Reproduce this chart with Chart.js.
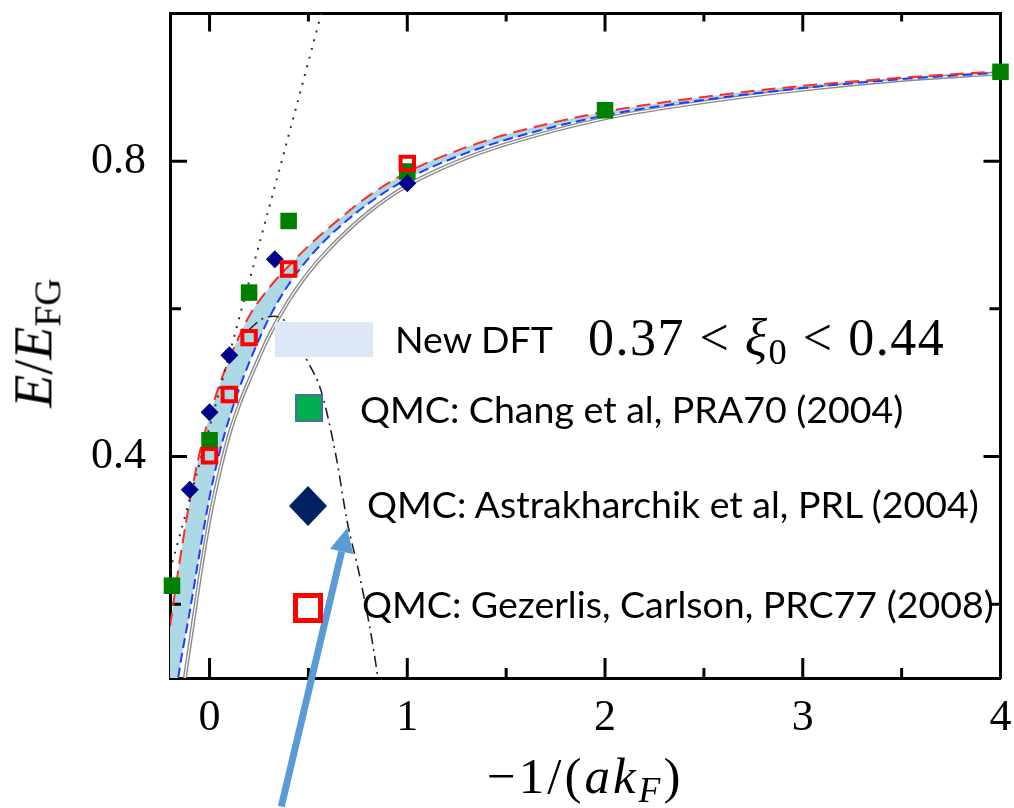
<!DOCTYPE html>
<html><head><meta charset="utf-8">
<script src="https://cdn.jsdelivr.net/npm/chart.js@4.4.0/dist/chart.umd.min.js"></script>
<style>
html,body{margin:0;padding:0;background:#fff;}
#wrap{position:relative;width:1014px;height:808px;overflow:hidden;background:#fff;}
canvas{position:absolute;left:0;top:0;}
.t{position:absolute;white-space:nowrap;line-height:1;color:#000;}
.leg{font-family:Lato,'Open Sans',sans-serif;font-size:37.5px;}
.math{font-family:'Liberation Serif',serif;}
.sw{position:absolute;box-sizing:border-box;}
</style></head><body>
<div id="wrap"><canvas id="c" width="1014" height="808"></canvas></div>
<script>
// ---- tick labels ----
const xTicks=[0,1,2,3,4];
const xMinorTicks=[0.5,1.5,2.5,3.5];
const yTicks=[0.4,0.8];
const yMinorTicks=[0.2,0.6];

// ---- New DFT band (upper = red dashed, lower = blue dashed) and grey curve ----
const dftX    =[-0.2, -0.15,-0.1, -0.05, 0,    0.05, 0.1,  0.15, 0.2,  0.3,  0.4,  0.5,  0.6,  0.8,  1.0,  1.25, 1.5,  2.0,  2.5,  3.0,  3.5,  4.0];
const dftUpper=[0.17, 0.26, 0.34, 0.405, 0.455,0.497,0.532,0.563,0.590,0.628,0.658,0.685,0.709,0.752,0.785,0.814,0.836,0.867,0.887,0.902,0.913,0.922];
const dftLower=[0.02, 0.115,0.19, 0.27,  0.345,0.405,0.452,0.492,0.527,0.587,0.633,0.668,0.697,0.742,0.776,0.806,0.829,0.862,0.883,0.899,0.911,0.920];
const greyX   =[-0.15,-0.125,-0.1,-0.05, 0,    0.05, 0.1,  0.15, 0.2,  0.3,  0.4,  0.5,  0.6,  0.8,  1.0,  1.25, 1.5,  2.0,  2.5,  3.0,  3.5,  4.0];
const greyY   =[0.055,0.1,  0.145,0.235, 0.315,0.378,0.430,0.470,0.503,0.563,0.611,0.649,0.680,0.730,0.767,0.799,0.823,0.858,0.880,0.897,0.910,0.919];

// ---- dotted straight line near unitarity ----
const linX=[-0.2, 0,    0.2,  0.4,  0.57];
const linY=[0.245,0.44, 0.637,0.835,1.005];

// ---- dash-dot curve ----
const uniX=[0.2,  0.27, 0.33, 0.40, 0.49, 0.565,0.64, 0.696,0.757,0.822,0.86];
const uniY=[0.572,0.587,0.59, 0.578,0.532,0.488,0.40, 0.312,0.241,0.151,0.085];

// ---- QMC data ----
const changX=[-0.19,0,    0.2,  0.4,  1.0,  2.0,  4.0];
const changY=[0.225,0.422,0.622,0.719,0.786,0.869,0.921];
const astraX=[-0.1, 0,    0.1,  0.33, 1.0];
const astraY=[0.355,0.46, 0.537,0.667,0.77];
const gezX  =[0,    0.1,  0.2,  0.4,  1.0];
const gezY  =[0.401,0.484,0.561,0.654,0.797];

// ---- arrow (data coords: from, to) ----
const arrowFrom=[0.363,-0.074];
const arrowTo  =[0.696,0.303];

const legendNames=['New DFT','QMC: Chang et al, PRA70 (2004)','QMC: Astrakharchik et al, PRL (2004)','QMC: Gezerlis, Carlson, PRC77 (2008)'];

const pts=(xs,ys)=>xs.map((x,i)=>({x,y:ys[i]}));

const inTicks={id:'inTicks',
  beforeDatasetsDraw(chart){
    const {ctx,chartArea:a,scales:{x,y}}=chart;
    ctx.save();ctx.strokeStyle='#000';ctx.lineWidth=3;ctx.beginPath();
    xTicks.forEach(v=>{const p=x.getPixelForValue(v);ctx.moveTo(p,a.bottom);ctx.lineTo(p,a.bottom-20);ctx.moveTo(p,a.top);ctx.lineTo(p,a.top+18);});
    xMinorTicks.forEach(v=>{const p=x.getPixelForValue(v);ctx.moveTo(p,a.bottom);ctx.lineTo(p,a.bottom-10);ctx.moveTo(p,a.top);ctx.lineTo(p,a.top+8);});
    yTicks.forEach(v=>{const p=y.getPixelForValue(v);ctx.moveTo(a.left,p);ctx.lineTo(a.left+17,p);ctx.moveTo(a.right,p);ctx.lineTo(a.right-17,p);});
    yMinorTicks.forEach(v=>{const p=y.getPixelForValue(v);ctx.moveTo(a.left,p);ctx.lineTo(a.left+11,p);ctx.moveTo(a.right,p);ctx.lineTo(a.right-11,p);});
    ctx.stroke();ctx.restore();
  },
  afterDraw(chart){
    const {ctx,scales:{x,y}}=chart;
    const x0=x.getPixelForValue(arrowFrom[0]),y0=y.getPixelForValue(arrowFrom[1]);
    const x1=x.getPixelForValue(arrowTo[0]),y1=y.getPixelForValue(arrowTo[1]);
    const ang=Math.atan2(y1-y0,x1-x0),L=24,W=12;
    const bx=x1-L*Math.cos(ang),by=y1-L*Math.sin(ang);
    ctx.save();ctx.strokeStyle='#5b9bd5';ctx.fillStyle='#5b9bd5';ctx.lineWidth=7;
    ctx.beginPath();ctx.moveTo(x0,y0);ctx.lineTo(bx,by);ctx.stroke();
    ctx.beginPath();ctx.moveTo(x1,y1);
    ctx.lineTo(bx+W*Math.sin(ang),by-W*Math.cos(ang));
    ctx.lineTo(bx-W*Math.sin(ang),by+W*Math.cos(ang));
    ctx.closePath();ctx.fill();ctx.restore();
  }
};

const lineDs=(label,data,o)=>Object.assign({label,data,showLine:true,pointRadius:0,pointHoverRadius:0,fill:false,borderWidth:2,tension:0.4,cubicInterpolationMode:'monotone'},o);
const noPad=(s)=>{s.paddingLeft=0;s.paddingRight=0;s.paddingTop=0;s.paddingBottom=0;};

const chart=new Chart(document.getElementById('c'),{
  type:'scatter',
  data:{datasets:[
    {label:legendNames[3],data:pts(gezX,gezY),pointStyle:'rect',pointRadius:9.5,borderColor:'#ff0000',borderWidth:4,backgroundColor:'rgba(0,0,0,0)',clip:false},
    {label:legendNames[2],data:pts(astraX,astraY),pointStyle:'rectRot',pointRadius:9,backgroundColor:'#00008b',borderWidth:0,clip:false},
    {label:legendNames[1],data:pts(changX,changY),pointStyle:'rect',pointRadius:11.7,backgroundColor:'#008000',borderWidth:0,clip:false},
    lineDs('unitary expansion',pts(uniX,uniY),{borderColor:'#222',borderWidth:1.6,borderDash:[11,5,2,5]}),
    lineDs('linear',pts(linX,linY),{borderColor:'#333',borderWidth:2,borderDash:[2,7],tension:0}),
    lineDs(legendNames[0]+' upper',pts(dftX,dftUpper),{borderColor:'#ff2a2a',borderWidth:2,borderDash:[14,7],fill:{target:'+1'},backgroundColor:'#add8e6'}),
    lineDs(legendNames[0]+' lower',pts(dftX,dftLower),{borderColor:'#1e3cff',borderWidth:2,borderDash:[10,5]}),
    lineDs('grey inner',pts(greyX,greyY),{borderColor:'#ffffff',borderWidth:1.2}),
    lineDs('grey',pts(greyX,greyY),{borderColor:'#8a8a8a',borderWidth:4})
  ]},
  options:{
    responsive:false,animation:false,devicePixelRatio:1,
    layout:{padding:0},
    plugins:{legend:{display:false},tooltip:{enabled:false},filler:{drawTime:'beforeDatasetsDraw'}},
    scales:{
      x:{type:'linear',position:'bottom',min:-0.2,max:4,
        afterBuildTicks:s=>{s.ticks=xTicks.map(v=>({value:v}));},
        afterFit:s=>{s.height=130;noPad(s);},
        grid:{display:false,drawTicks:false},
        border:{display:true,width:3,color:'#000'},
        ticks:{padding:14,color:'#000',font:{family:'Liberation Serif',size:44},callback:v=>String(v)}},
      x2:{type:'linear',position:'top',min:-0.2,max:4,
        afterFit:s=>{s.height=10;noPad(s);},
        grid:{display:false,drawTicks:false},
        border:{display:true,width:3,color:'#000'},
        ticks:{display:false}},
      y:{type:'linear',position:'left',min:0.1,max:1.0,
        afterBuildTicks:s=>{s.ticks=yTicks.map(v=>({value:v}));},
        afterFit:s=>{s.width=170;noPad(s);},
        grid:{display:false,drawTicks:false},
        border:{display:true,width:3,color:'#000'},
        ticks:{padding:24,color:'#000',font:{family:'Liberation Serif',size:44},callback:v=>v.toFixed(1)}},
      y2:{type:'linear',position:'right',min:0.1,max:1.0,
        afterFit:s=>{s.width=10;noPad(s);},
        grid:{display:false,drawTicks:false},
        border:{display:true,width:3,color:'#000'},
        ticks:{display:false}}
    }
  },
  plugins:[inTicks]
});

// ---- HTML overlay: axis titles, legend and annotation ----
const wrap=document.getElementById('wrap');
function add(html,cls,style){const d=document.createElement('div');d.className=cls;d.innerHTML=html;Object.assign(d.style,style);wrap.appendChild(d);return d;}
add('&minus;1/(<i>ak</i><sub style="font-size:0.7em;vertical-align:-0.25em"><i>F</i></sub>)','t math',{fontSize:'51px',letterSpacing:'3px',left:'487px',top:'751px'});
add('<i>E</i>/<i>E</i><sub style="font-size:0.7em;vertical-align:-0.25em">FG</sub>','t math',{fontSize:'54px',left:'37px',top:'343px',transform:'translate(-50%,-50%) rotate(-90deg)'});
add('','sw',{left:'275px',top:'322px',width:'98px',height:'35px',background:'#dce8f5'});
add('','sw',{left:'295px',top:'394px',width:'28px',height:'28px',background:'#00b050',border:'2px solid #41719c'});
add('','sw',{left:'289px',top:'486px',width:'38px',height:'40px',background:'#002060',clipPath:'polygon(50% 0,100% 50%,50% 100%,0 50%)'});
add('','sw',{left:'293px',top:'593px',width:'30px',height:'30px',background:'#fff',border:'5px solid #ff0000'});
add(legendNames[0],'t leg',{left:'395px',top:'320px'});
add(legendNames[1],'t leg',{left:'360px',top:'390px'});
add(legendNames[2],'t leg',{left:'367px',top:'485px'});
add(legendNames[3],'t leg',{left:'362px',top:'585px'});
add('0.37&nbsp;&lt;&nbsp;<i>&xi;</i><sub style="font-size:0.7em;vertical-align:-0.25em">0</sub>&nbsp;&lt;&nbsp;0.44','t math',{fontSize:'52px',letterSpacing:'1.5px',left:'588px',top:'312px'});
</script>
</body></html>
